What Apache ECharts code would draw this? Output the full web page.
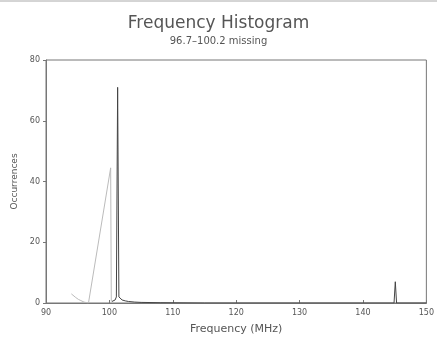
<!DOCTYPE html>
<html><head><meta charset="utf-8">
<script src="https://cdn.jsdelivr.net/npm/echarts@6/dist/echarts.min.js"></script>
<style>html,body{margin:0;padding:0;background:#fff}#c{width:437px;height:340px}</style>
</head><body><div id="c"></div>
<script>
const titleText = "Frequency Histogram";
const subtitleText = "96.7\u2013100.2 missing";
const xTicks = [90, 100, 110, 120, 130, 140, 150];
const yTicks = [0, 20, 40, 60, 80];
// interpolated (missing) region, drawn in light gray
const freqGray  = [94.0, 94.3, 94.7, 95.1, 95.5, 96.0, 96.7, 100.2, 100.3];
const countGray = [3.0, 2.6, 1.8, 1.2, 0.8, 0.3, 0.0, 44.5, 0.5];
// measured occurrences
const freqMain  = [100.4, 100.9, 101.1, 101.3, 101.5, 101.7, 102.0, 102.5, 103.0, 104.0, 105.0, 108.0, 115.0, 130.0, 144.9, 145.1, 145.3, 150.0];
const countMain = [0.5, 1.0, 2.0, 71.0, 2.0, 1.5, 1.0, 0.7, 0.5, 0.3, 0.2, 0.1, 0.0, 0.0, 0.0, 7.0, 0.0, 0.0];

const pair = (xs, ys) => xs.map((x, i) => [x, ys[i]]);
const txt = '#555';
const ax = '#777';
const font = 'DejaVu Sans';
const chart = echarts.init(document.getElementById('c'), null, {renderer: 'canvas'});
chart.setOption({
  animation: false,
  backgroundColor: '#fff',
  title: {
    text: titleText, subtext: subtitleText, left: 'center', top: 10, itemGap: 4,
    textStyle: {fontFamily: font, fontSize: 17, fontWeight: 'normal', color: txt},
    subtextStyle: {fontFamily: font, fontSize: 10, color: txt}
  },
  graphic: [{type: 'line', shape: {x1: 0, y1: 1, x2: 437, y2: 1}, style: {stroke: '#aaa', lineWidth: 1}}],
  grid: {left: 46, right: 9, top: 60, bottom: 37, show: true, borderColor: ax, borderWidth: 1},
  xAxis: {
    type: 'value', min: 90, max: 150, interval: 10,
    name: 'Frequency (MHz)', nameLocation: 'middle', nameGap: 21,
    nameTextStyle: {fontFamily: font, fontSize: 11, color: txt},
    axisLine: {lineStyle: {color: ax}},
    axisTick: {inside: true, length: 3, lineStyle: {color: ax}},
    axisLabel: {fontFamily: font, fontSize: 8, color: txt, margin: 6,
      formatter: v => xTicks.includes(v) ? String(v) : ''},
    splitLine: {show: false}
  },
  yAxis: {
    type: 'value', min: 0, max: 80, interval: 20,
    name: 'Occurrences', nameLocation: 'middle', nameGap: 23,
    nameTextStyle: {fontFamily: font, fontSize: 9, color: txt},
    axisLine: {show: true, lineStyle: {color: ax}},
    axisTick: {show: true, inside: false, length: 3, lineStyle: {color: ax}},
    axisLabel: {fontFamily: font, fontSize: 8, color: txt, margin: 6,
      formatter: v => yTicks.includes(v) ? String(v) : ''},
    splitLine: {show: false}
  },
  series: [
    {type: 'line', data: pair(freqGray, countGray), symbol: 'none',
     lineStyle: {color: '#bbb', width: 1}},
    {type: 'line', data: pair(freqMain, countMain), symbol: 'none',
     lineStyle: {color: '#444', width: 1}}
  ]
});
</script></body></html>
